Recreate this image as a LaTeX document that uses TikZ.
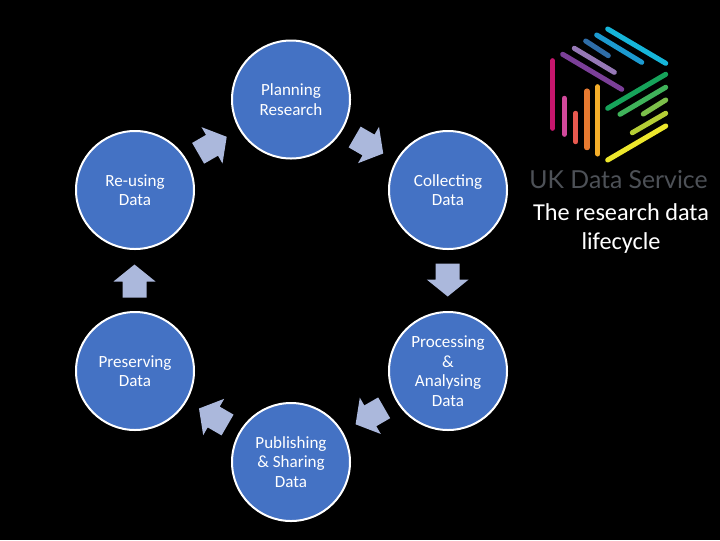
\documentclass[tikz,border=0pt]{standalone}
\usepackage{fontspec}
\setmainfont{Carlito}
\newfontfamily\logofont{Lato}
\definecolor{circfill}{HTML}{4472C4}
\definecolor{arrfill}{HTML}{ABB8DC}
\definecolor{logotext}{HTML}{4D5157}
\definecolor{lgmagenta}{HTML}{C6166D}
\definecolor{lgpink}{HTML}{D1499B}
\definecolor{lgcoral}{HTML}{E8594F}
\definecolor{lgorange}{HTML}{E77A30}
\definecolor{lggold}{HTML}{F4AE2A}
\definecolor{lgyellow}{HTML}{EDE72C}
\definecolor{lglime}{HTML}{B5CE35}
\definecolor{lglgreen}{HTML}{7CBF4A}
\definecolor{lggreen}{HTML}{3FB25A}
\definecolor{lgdgreen}{HTML}{16A35A}
\definecolor{lgpurple}{HTML}{7B3F98}
\definecolor{lglav}{HTML}{9678B6}
\definecolor{lgdblue}{HTML}{2F6DA8}
\definecolor{lgblue}{HTML}{1C9AD0}
\definecolor{lgcyan}{HTML}{16B5D9}
\tikzset{
  stage/.style={circle,draw=white,line width=1.5pt,fill=circfill,minimum size=88.5pt,inner sep=0pt,
    text=white,font=\fontsize{12.8}{14.6}\selectfont,align=center},
  blockarrow/.style={fill=arrfill,draw=none},
  logobar/.style={line width=3.8pt,line cap=round},
  caption/.style={text=white,font=\fontsize{18.2}{22}\selectfont,align=center}
}
\newcommand{\blockarr}[3]{% centre x, centre y, angle (counter-clockwise on the page)
  \fill[blockarrow,shift={(#1,#2)},rotate=#3]
    (-16,-12)--(0,-12)--(0,-21)--(17,0)--(0,21)--(0,12)--(-16,12)--cycle;}
\begin{document}
\begin{tikzpicture}[x=0.75pt,y=-0.75pt]
\useasboundingbox (0,0) rectangle (720,540);
\fill[black] (0,0) rectangle (720,540);
\node[stage] (plan) at (291,99.5) {Planning\\Research};
\node[stage] (coll) at (448,190) {Collecting\\Data};
\node[stage] (proc) at (448,371) {Processing\\\&\\Analysing\\Data};
\node[stage] (publ) at (291,462) {Publishing\\\&~Sharing\\Data};
\node[stage] (pres) at (135,371) {Preserving\\Data};
\node[stage] (reus) at (135,190) {Re-using\\Data};
\blockarr{212}{145.3}{30}
\blockarr{368.5}{145}{-30}
\blockarr{447.7}{279.5}{-90}
\blockarr{370.3}{415.8}{-150}
\blockarr{213.7}{417}{150}
\blockarr{134.5}{281.5}{90}
% logo
\draw[logobar,lgmagenta] (552.7,60.7)--(552.7,128.3);
\draw[logobar,lgpink] (564.3,98.3)--(564.3,134.3);
\draw[logobar,lgcoral] (575.7,113.3)--(575.7,141.7);
\draw[logobar,lgorange] (587,91)--(587,147.7);
\draw[logobar,lggold] (597.7,86.7)--(597.7,154);
\draw[logobar,lgyellow] (607.7,160)--(665.7,126);
\draw[logobar,lglime] (632.3,132.7)--(665.7,113.3);
\draw[logobar,lglgreen] (643.3,114)--(665.7,100);
\draw[logobar,lggreen] (620,114.3)--(665.7,87.3);
\draw[logobar,lgdgreen] (607.7,108.3)--(665.7,74.3);
\draw[logobar,lgpurple] (562.7,54.3)--(621.7,89.3);
\draw[logobar,lglav] (574.3,48.3)--(614.3,72.3);
\draw[logobar,lgdblue] (585.7,41)--(608.3,55.7);
\draw[logobar,lgblue] (596.7,35)--(641.7,62.3);
\draw[logobar,lgcyan] (607.7,29)--(665.7,63.3);
\node[text=logotext,font=\logofont\fontsize{18.6}{22}\selectfont,inner sep=0pt] (logo) at (618.5,180) {UK Data Service};
\node[caption] (cap) at (621,228.5) {The research data\\lifecycle};
\end{tikzpicture}
\end{document}
